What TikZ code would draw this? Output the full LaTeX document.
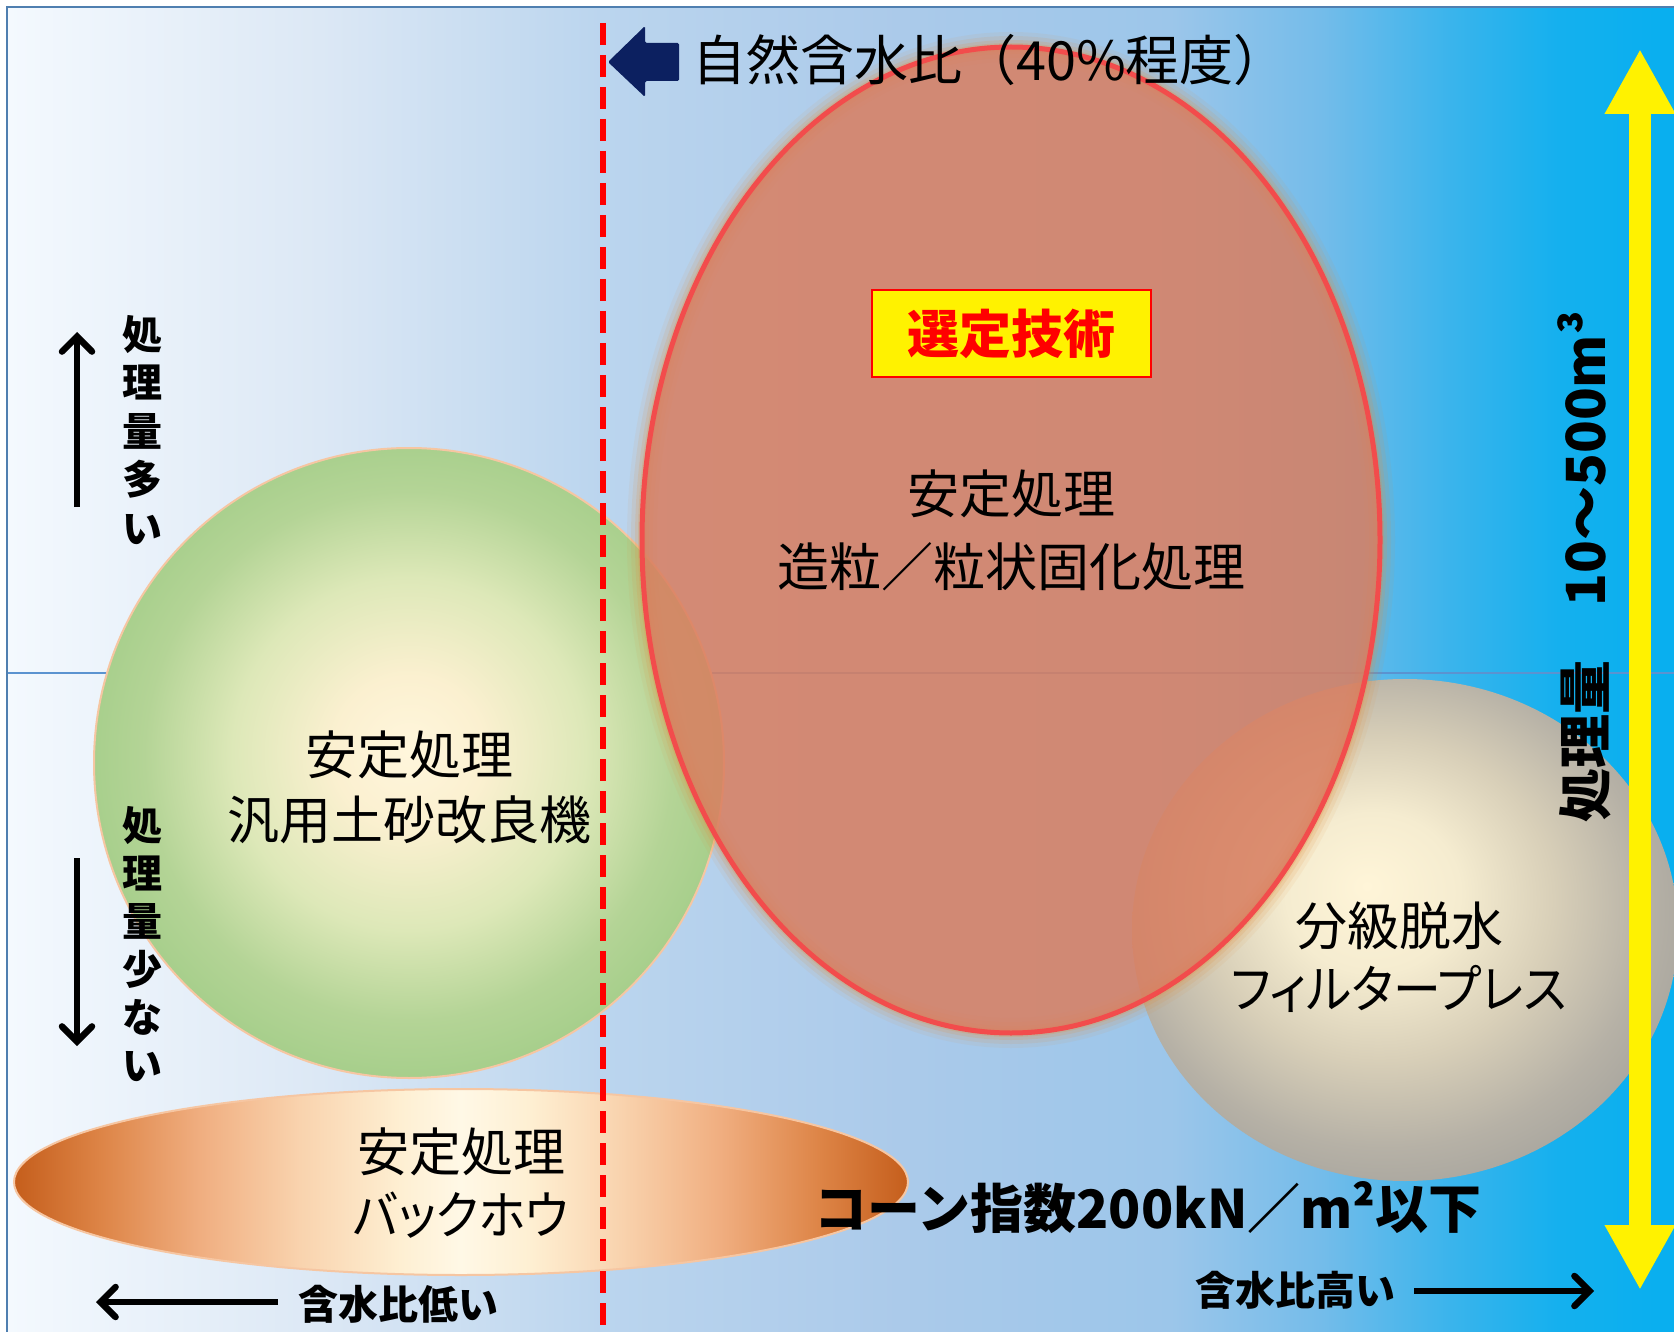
\documentclass[tikz,border=0pt]{standalone}
\usepackage{fontspec}
\setmainfont{Noto Sans CJK JP}
\newfontfamily\jpp[RawFeature=+palt, FakeStretch=0.92]{Noto Sans CJK JP}
\usetikzlibrary{arrows.meta}

\definecolor{bgA}{HTML}{F4F9FE}
\definecolor{bgB}{HTML}{DCE8F5}
\definecolor{bgC}{HTML}{BBD5EE}
\definecolor{bgD}{HTML}{ABCAEA}
\definecolor{bgE}{HTML}{9CC6EA}
\definecolor{bgF}{HTML}{74BCEA}
\definecolor{bgG}{HTML}{3AB4EC}
\definecolor{bgH}{HTML}{14B0EE}
\definecolor{bgI}{HTML}{08AFEF}
\definecolor{framec}{HTML}{4F7FB0}
\definecolor{hlinec}{HTML}{5B93D0}
\definecolor{gr0}{HTML}{FFF6DC}
\definecolor{gr1}{HTML}{FBF0D0}
\definecolor{gr2}{HTML}{DDE8B8}
\definecolor{gr3}{HTML}{B4D496}
\definecolor{gr4}{HTML}{A5CE8A}
\definecolor{gy0}{HTML}{FFF5D8}
\definecolor{gy1}{HTML}{F5ECD0}
\definecolor{gy2}{HTML}{D8CFB8}
\definecolor{gy3}{HTML}{B6B1A6}
\definecolor{gy4}{HTML}{A4A29C}
\definecolor{or0}{HTML}{C55E1C}
\definecolor{or1}{HTML}{DD8446}
\definecolor{or2}{HTML}{F0AE80}
\definecolor{or3}{HTML}{F9D3AE}
\definecolor{or4}{HTML}{FEEFD2}
\definecolor{or5}{HTML}{FFF8E6}
\definecolor{peach}{HTML}{F6C6A2}
\definecolor{redfill}{HTML}{D97E60}
\definecolor{redline}{HTML}{F24C4C}
\definecolor{glowc}{HTML}{E09040}
\definecolor{navyc}{HTML}{0C2060}

\pgfdeclarehorizontalshading{bgshade}{100bp}{color(0bp)=(bgA); color(25bp)=(bgA); color(34.4bp)=(bgB); color(42.8bp)=(bgC); color(51.8bp)=(bgD); color(59.9bp)=(bgE); color(64.4bp)=(bgF); color(68.3bp)=(bgG); color(71.6bp)=(bgH); color(75bp)=(bgI); color(100bp)=(bgI)}
\pgfdeclarehorizontalshading{orshade}{100bp}{color(0bp)=(or0); color(25bp)=(or0); color(29.8bp)=(or1); color(35.4bp)=(or2); color(41bp)=(or3); color(46.6bp)=(or4); color(50bp)=(or5); color(53.9bp)=(or4); color(58.9bp)=(or3); color(64.5bp)=(or2); color(70.1bp)=(or1); color(75bp)=(or0); color(100bp)=(or0)}
\pgfdeclareradialshading{greenball}{\pgfpoint{0bp}{1bp}}{color(0bp)=(gr0); color(6bp)=(gr1); color(14bp)=(gr2); color(21bp)=(gr3); color(26bp)=(gr4); color(50bp)=(gr4)}
\pgfdeclareradialshading{grayball}{\pgfpoint{-3.5bp}{4.4bp}}{color(0bp)=(gy0); color(8bp)=(gy1); color(16bp)=(gy2); color(24bp)=(gy3); color(30bp)=(gy4); color(50bp)=(gy4)}

\tikzset{
  lbl/.style={inner sep=0pt, align=center, font=\fontsize{52}{65}\selectfont},
  boldlbl/.style={inner sep=0pt, align=center, font=\fontsize{40}{48}\selectfont\bfseries},
  blkarrow/.style={line width=6.5pt, -{Straight Barb[length=15pt, width=30pt, line cap=round]}},
}

\begin{document}
\begin{tikzpicture}[x=1pt, y=-1pt]
\useasboundingbox (0,0) rectangle (1674,1332);
\fill[white] (0,0) rectangle (1674,1332);
\shade[shading=bgshade] (7,7) rectangle (1674,1332);
\draw[framec, line width=2pt] (7,1332) -- (7,7) -- (1674,7);

% horizontal divider
\coordinate (hl0) at (8,673);
\coordinate (hl1) at (1674,673);
\draw[hlinec, line width=1.6pt] (hl0) -- (hl1);

% green circle
\shadedraw[shading=greenball, draw=peach, line width=2pt] (409,763) circle[radius=315];
% orange ellipse
\shadedraw[shading=orshade, draw=peach, line width=2pt] (461,1182) ellipse[x radius=447, y radius=93];
% gray ellipse
\shade[shading=grayball] (1405,930) ellipse[x radius=273, y radius=251];

% red ellipse with glow
\foreach \w/\o in {30/0.08, 22/0.12, 14/0.16, 8/0.22} {
  \draw[glowc, line width=\w pt, opacity=\o] (1011,540) ellipse[x radius=369, y radius=493];
}
\fill[redfill, opacity=0.85] (1011,540) ellipse[x radius=369, y radius=493];
\draw[redline, line width=5pt] (1011,540) ellipse[x radius=369, y radius=493];

% dashed red line
\coordinate (d0) at (603,23);
\coordinate (d1) at (603,1332);
\draw[red, line width=6pt, dash pattern=on 22pt off 10pt] (d0) -- (d1);

% yellow double arrow
\coordinate (ya0) at (1640,49);
\coordinate (ya1) at (1640,1290);
\draw[yellow, line width=22pt, {Triangle[length=65pt, width=66pt]}-{Triangle[length=65pt, width=66pt]}] (ya0) -- (ya1);

% navy block arrow
\fill[navyc, rounded corners=1.5pt] (608,62) -- (645,26) -- (645,43) -- (679,43) -- (679,81) -- (645,81) -- (645,97) -- cycle;
\node[inner sep=0pt, anchor=west, font=\fontsize{54}{60}\selectfont] (nat) at (692,60) {自然含水比（40\%程度）};

% selected box
\node[draw=red, fill=yellow, line width=2pt, minimum width=279pt, minimum height=87pt, inner sep=0pt, text=red, font=\fontsize{52}{60}\selectfont\bfseries] (sel) at (1011.5,333.5) {選定技術};

% labels
\node[lbl, font=\fontsize{52}{73}\selectfont] (red) at (1011,530) {安定処理\\造粒／粒状固化処理};
\node[lbl] (grn) at (409,787) {安定処理\\汎用土砂改良機};
\node[lbl, font=\fontsize{52}{63}\selectfont] (gry) at (1399,957) {分級脱水\\{\jpp フィルタープレス}};
\node[lbl, font=\fontsize{52}{63}\selectfont] (org) at (461,1183) {安定処理\\{\jpp バックホウ}};

\node[inner sep=0pt, font=\fontsize{53}{60}\selectfont\bfseries] (cone) at (1148,1208) {コーン指数200kN／m²以下};
\node[inner sep=0pt, rotate=90, font=\fontsize{54}{60}\selectfont\bfseries] (cap) at (1584,567) {処理量　10～500m³};

% left vertical labels and arrows
\node[boldlbl, font=\fontsize{40}{48.5}\selectfont\bfseries] (many) at (142,430) {処\\理\\量\\多\\い};
\node[boldlbl] (few) at (142,944) {処\\理\\量\\少\\な\\い};
\coordinate (ua0) at (77,507);
\coordinate (ua1) at (77,332);
\draw[blkarrow] (ua0) -- (ua1);
\coordinate (da0) at (77,858);
\coordinate (da1) at (77,1046);
\draw[blkarrow] (da0) -- (da1);

% bottom labels and arrows
\node[inner sep=0pt, font=\fontsize{40}{48}\selectfont\bfseries] (low) at (398,1304) {含水比低い};
\node[inner sep=0pt, font=\fontsize{40}{48}\selectfont\bfseries] (high) at (1295,1290) {含水比高い};
\coordinate (la0) at (278,1302);
\coordinate (la1) at (96,1302);
\draw[blkarrow] (la0) -- (la1);
\coordinate (ra0) at (1414,1291);
\coordinate (ra1) at (1594,1291);
\draw[blkarrow] (ra0) -- (ra1);
\end{tikzpicture}
\end{document}
